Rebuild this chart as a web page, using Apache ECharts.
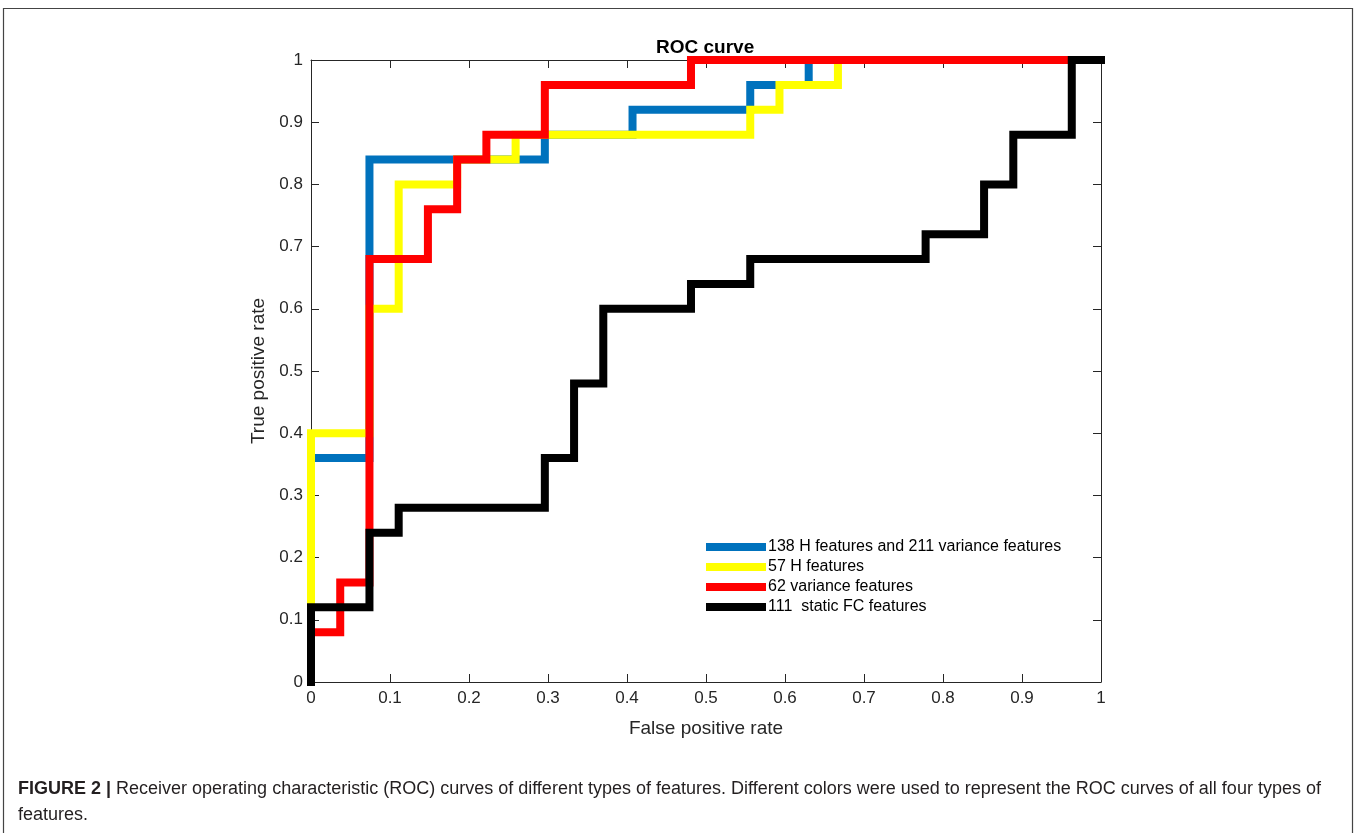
<!DOCTYPE html>
<html>
<head>
<meta charset="utf-8">
<title>ROC curve</title>
<script src="https://cdn.jsdelivr.net/npm/echarts@6/dist/echarts.min.js"></script>
<style>
  html, body { margin: 0; padding: 0; background: #fff; }
  #roc { width: 1356px; height: 833px; }
</style>
</head>
<body>
<div id="roc"></div>
<script>
// ROC points (false positive rate, true positive rate)
const blueFpr = [0, 0, 0.074, 0.074, 0.296, 0.296, 0.407, 0.407, 0.556, 0.556, 0.630, 0.630, 1];
const blueTpr = [0, 0.36, 0.36, 0.84, 0.84, 0.88, 0.88, 0.92, 0.92, 0.96, 0.96, 1, 1];

const yellowFpr = [0, 0, 0.074, 0.074, 0.111, 0.111, 0.185, 0.185, 0.259, 0.259, 0.556, 0.556, 0.593, 0.593, 0.667, 0.667, 1];
const yellowTpr = [0, 0.40, 0.40, 0.60, 0.60, 0.80, 0.80, 0.84, 0.84, 0.88, 0.88, 0.92, 0.92, 0.96, 0.96, 1, 1];

const redFpr = [0, 0, 0.037, 0.037, 0.074, 0.074, 0.148, 0.148, 0.185, 0.185, 0.222, 0.222, 0.296, 0.296, 0.481, 0.481, 1];
const redTpr = [0, 0.08, 0.08, 0.16, 0.16, 0.68, 0.68, 0.76, 0.76, 0.84, 0.84, 0.88, 0.88, 0.96, 0.96, 1, 1];

const blackFpr = [0, 0, 0.074, 0.074, 0.111, 0.111, 0.296, 0.296, 0.333, 0.333, 0.370, 0.370, 0.481, 0.481, 0.556, 0.556, 0.778, 0.778, 0.852, 0.852, 0.889, 0.889, 0.963, 0.963, 1];
const blackTpr = [0, 0.12, 0.12, 0.24, 0.24, 0.28, 0.28, 0.36, 0.36, 0.48, 0.48, 0.60, 0.60, 0.64, 0.64, 0.68, 0.68, 0.72, 0.72, 0.80, 0.80, 0.88, 0.88, 1, 1];

const seriesNames = [
  '138 H features and 211 variance features',
  '57 H features',
  '62 variance features',
  '111  static FC features'
];
const tickLabels = ['0', '0.1', '0.2', '0.3', '0.4', '0.5', '0.6', '0.7', '0.8', '0.9', '1'];

const captionBold = 'FIGURE 2 |';
const captionLine1 = ' Receiver operating characteristic (ROC) curves of different types of features. Different colors were used to represent the ROC curves of all four types of';
const captionLine2 = 'features.';

const chartDom = document.getElementById('roc');
const myChart = echarts.init(chartDom);

const colors = ['#0072BD', '#FFFF00', '#FF0000', '#000000'];
const font = 'Liberation Sans, Arial, Helvetica, sans-serif';

function pairs(xs, ys) {
  return xs.map((x, i) => [x, ys[i]]);
}

const tickFmt = v => tickLabels[Math.round(v * 10)];

function valueAxis(extra) {
  return Object.assign({
    type: 'value',
    min: 0,
    max: 1,
    interval: 0.1,
    splitLine: { show: false },
    axisLine: { show: true, onZero: false, lineStyle: { color: '#262626', width: 1 } },
    axisTick: { show: true, inside: true, length: 8, lineStyle: { color: '#262626', width: 1 } },
    axisLabel: { show: true, color: '#262626', fontSize: 17, fontFamily: font, margin: 8, formatter: tickFmt }
  }, extra);
}

const hidden = { show: false };

let option = {
  animation: false,
  backgroundColor: '#fff',
  color: colors,
  title: {
    text: 'ROC curve',
    left: 651,
    top: 33,
    textStyle: { fontFamily: font, fontSize: 19, fontWeight: 'bold', color: '#000' }
  },
  grid: { left: 311, top: 60, width: 790, height: 622, containLabel: false },
  legend: {
    left: 701,
    top: 533,
    orient: 'vertical',
    icon: 'rect',
    itemWidth: 60,
    itemHeight: 8,
    itemGap: 2,
    selectedMode: false,
    textStyle: { fontFamily: font, fontSize: 16, color: '#000', padding: [0, 0, 0, -3], lineHeight: 18 },
    data: seriesNames
  },
  xAxis: [
    valueAxis({
      position: 'bottom',
      name: 'False positive rate',
      nameLocation: 'middle',
      nameGap: 37,
      nameTextStyle: { fontFamily: font, fontSize: 19, color: '#262626' }
    }),
    valueAxis({ position: 'top', axisLabel: hidden })
  ],
  yAxis: [
    valueAxis({
      position: 'left',
      name: 'True positive rate',
      nameLocation: 'middle',
      nameGap: 39,
      nameTextStyle: { fontFamily: font, fontSize: 19, color: '#262626' }
    }),
    valueAxis({ position: 'right', axisLabel: hidden })
  ],
  graphic: [
    {
      type: 'rect',
      shape: { x: 3.5, y: 8.5, width: 1349, height: 900 },
      style: { fill: 'none', stroke: '#444', lineWidth: 1.2 },
      silent: true
    },
    {
      type: 'text',
      left: 18,
      top: 780,
      style: {
        text: '{b|' + captionBold + '}' + captionLine1,
        font: '18px ' + font,
        fill: '#231f20',
        rich: { b: { fontWeight: 'bold', fontFamily: font, fontSize: 18, fill: '#231f20' } }
      }
    },
    {
      type: 'text',
      left: 18,
      top: 806,
      style: { text: captionLine2, font: '18px ' + font, fill: '#231f20' }
    }
  ],
  series: []
};

const xs = [blueFpr, yellowFpr, redFpr, blackFpr];
const ys = [blueTpr, yellowTpr, redTpr, blackTpr];

option.series = seriesNames.map((name, i) => ({
  name: name,
  type: 'line',
  data: pairs(xs[i], ys[i]),
  showSymbol: false,
  symbol: 'none',
  clip: false,
  z: 2 + i,
  lineStyle: { color: colors[i], width: 8, cap: 'square', join: 'miter' },
  itemStyle: { color: colors[i] }
}));

myChart.setOption(option);
</script>
</body>
</html>
